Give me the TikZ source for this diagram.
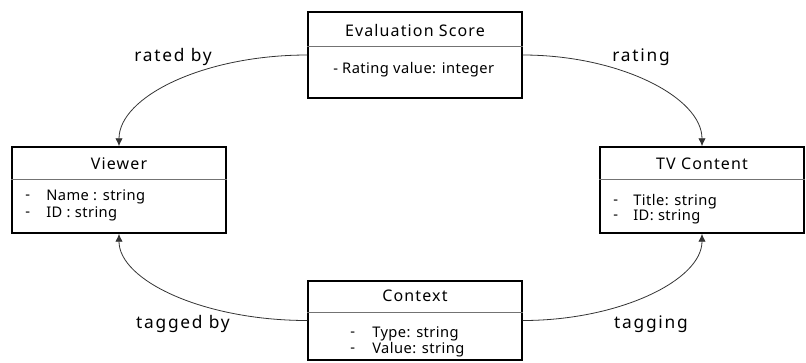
\documentclass[tikz,border=0pt]{standalone}
\usepackage{fontspec}
\setmainfont{Noto Sans}
\newfontfamily\titlefont[LetterSpace=7]{Noto Sans}
\newfontfamily\attrfont[LetterSpace=3]{Noto Sans}
\newfontfamily\relfont[LetterSpace=10]{Noto Sans}
\usetikzlibrary{arrows.meta}
\tikzset{
  umlbox/.style={draw=black, line width=1.1pt, inner sep=0pt},
  divider/.style={draw=black!55, line width=0.75pt},
  titletext/.style={font=\titlefont\fontsize{12}{14}\selectfont, inner sep=0pt, anchor=center},
  attrtext/.style={font=\attrfont\fontsize{11}{13}\selectfont, inner sep=0pt, anchor=west},
  reltext/.style={font=\relfont\fontsize{13}{15}\selectfont, inner sep=0pt, anchor=center},
  conn/.style={draw=black!80, line width=0.6pt, -{Latex[length=6pt,width=5.5pt]}},
}
\begin{document}
\begin{tikzpicture}[x=0.75pt,y=-0.75pt]
\useasboundingbox (0,0) rectangle (806,362);
% boxes
\node[umlbox, minimum width=160.5pt, minimum height=64.5pt] (eval) at (415,55) {};
\node[umlbox, minimum width=160.5pt, minimum height=64.5pt] (viewer) at (119,190) {};
\node[umlbox, minimum width=153pt, minimum height=64.5pt] (tv) at (702,190) {};
\node[umlbox, minimum width=160.5pt, minimum height=59.25pt] (ctx) at (415,320.5) {};
% dividers
\draw[divider] (eval.west |- 0,46) -- (eval.east |- 0,46);
\draw[divider] (viewer.west |- 0,179) -- (viewer.east |- 0,179);
\draw[divider] (tv.west |- 0,179) -- (tv.east |- 0,179);
\draw[divider] (ctx.west |- 0,312) -- (ctx.east |- 0,312);
% titles
\node[titletext] (evalt) at (415,30) {Evaluation Score};
\node[titletext] (viewert) at (119,164) {Viewer};
\node[titletext] (tvt) at (702,164) {TV Content};
\node[titletext] (ctxt) at (415,296) {Context};
% attributes
\node[attrtext] (ea1) at (333,70) {- Rating value: integer};
\node[attrtext] (vd1) at (25,197) {-};
\node[attrtext] (va1) at (46,197) {Name : string};
\node[attrtext] (vd2) at (25,214) {-};
\node[attrtext] (va2) at (46,214) {ID : string};
\node[attrtext] (td1) at (613,202) {-};
\node[attrtext] (ta1) at (633,202) {Title: string};
\node[attrtext] (td2) at (613,217) {-};
\node[attrtext] (ta2) at (633,217) {ID: string};
\node[attrtext] (cd1) at (350,334) {-};
\node[attrtext] (ca1) at (372,334) {Type: string};
\node[attrtext] (cd2) at (350,350) {-};
\node[attrtext] (ca2) at (372,350) {Value: string};
% connectors
\draw[conn] (eval.west) to[out=180,in=90,out distance=78pt,in distance=37pt] (viewer.north);
\draw[conn] (eval.east) to[out=0,in=90,out distance=72pt,in distance=37pt] (tv.north);
\draw[conn] (ctx.west) to[out=180,in=-90,out distance=78pt,in distance=35pt] (viewer.south);
\draw[conn] (ctx.east) to[out=0,in=-90,out distance=72pt,in distance=35pt] (tv.south);
% relation labels
\node[reltext] (l1) at (173,57) {rated by};
\node[reltext] (l2) at (641,57) {rating};
\node[reltext] (l3) at (183,324) {tagged by};
\node[reltext] (l4) at (651,324) {tagging};
\end{tikzpicture}
\end{document}
